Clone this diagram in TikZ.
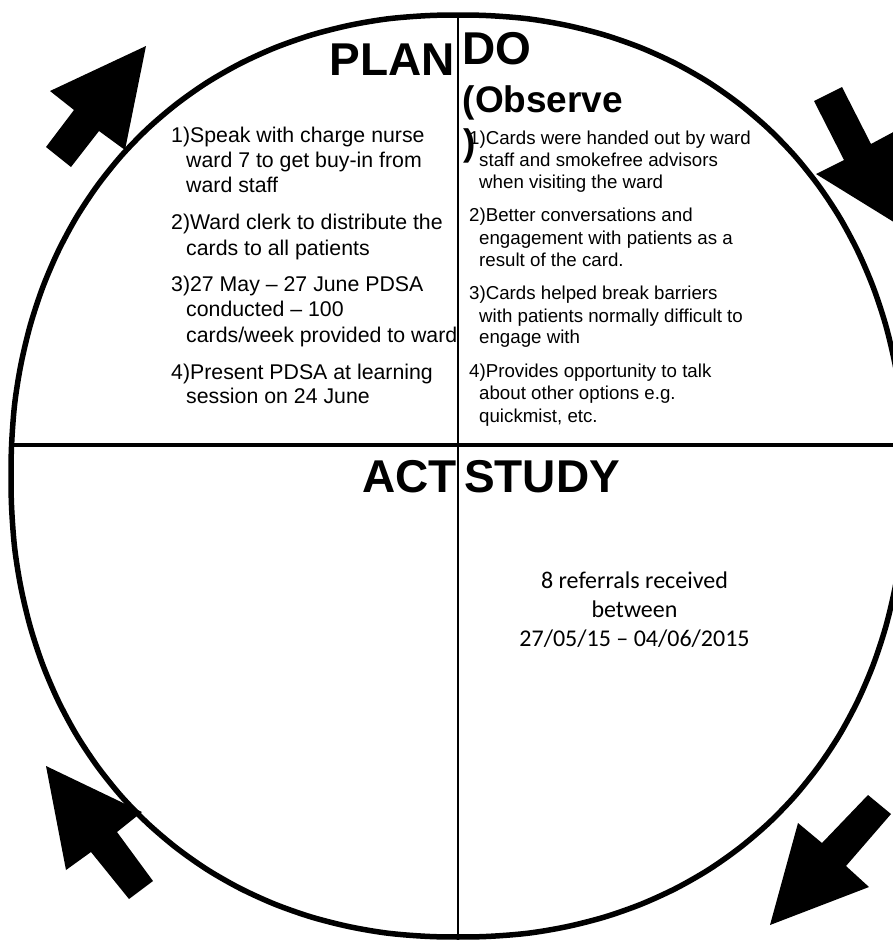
\documentclass[tikz,border=0pt]{standalone}
\usepackage{fontspec}
\setmainfont{Liberation Sans}
\newfontfamily\calibrifont{Carlito}
\begin{document}
\begin{tikzpicture}[x=1pt,y=-1pt,
  ptxt/.style={anchor=base west, inner sep=0pt, font=\fontsize{21.3}{25}\selectfont},
  dtxt/.style={anchor=base west, inner sep=0pt, font=\fontsize{18.7}{22}\selectfont},
  titletxt/.style={anchor=base west, inner sep=0pt, font=\fontsize{46}{50}\selectfont\bfseries},
  subtitletxt/.style={anchor=base west, inner sep=0pt, font=\fontsize{37}{43}\selectfont\bfseries},
  stxt/.style={anchor=base, inner sep=0pt, font=\fontsize{24}{29}\selectfont\calibrifont},
  blockarrow/.style={fill=black, draw=none},
  rim/.style={draw=black, line width=5.5pt},
  hdiv/.style={draw=black, line width=3.4pt},
  vdiv/.style={draw=black, line width=2.5pt}]
\useasboundingbox (0,0) rectangle (893,940);
\fill[white] (0,0) rectangle (893,940);
\clip (0,0) rectangle (893,940);

% outer cycle shape
\draw[rim] plot[domain=2.5:357.5, samples=72, smooth cycle, variable=\t]
  ({458+447*sign(cos(\t))*pow(abs(cos(\t)),0.93)},
   {476+461*sign(sin(\t))*pow(abs(sin(\t)),0.93)});

% dividers
\coordinate (hl) at (14,445);
\coordinate (hr) at (900,445);
\coordinate (vt) at (458,15);
\coordinate (vb) at (458,937);
\draw[hdiv] (hl) -- (hr);
\draw[vdiv] (vt) -- (vb);

% block arrows
\fill[blockarrow] (146,46) -- (50,91) -- (74,110) -- (46,147) -- (71,167) -- (99,131) -- (125,150) -- cycle;
\fill[blockarrow] (897,224) -- (816,174) -- (844,160) -- (814,101) -- (842,87) -- (871,144) -- (899,129) -- cycle;
\fill[blockarrow] (770,925) -- (798,823) -- (822,843) -- (868,795) -- (891,814) -- (846,866) -- (869,887) -- cycle;
\fill[blockarrow] (46,766) -- (142,812) -- (117,832) -- (153,881) -- (129,899) -- (91,852) -- (66,870) -- cycle;

% titles
\node[titletxt] (plan) at (329.5,75) {PLAN};
\node[titletxt] (do) at (462.5,64) {DO};
\node[subtitletxt] (obs) at (462.5,112) {(Observe};
\node[titletxt] (act) at (362,492) {ACT};
\node[titletxt] (study) at (464,492) {STUDY};

% PLAN items
\node[ptxt] (p1a) at (171,142) {1)Speak with charge nurse};
\node[ptxt] (p1b) at (186,167) {ward 7 to get buy-in from};
\node[ptxt] (p1c) at (186,192) {ward staff};
\node[ptxt] (p2a) at (171,229) {2)Ward clerk to distribute the};
\node[ptxt] (p2b) at (186,255) {cards to all patients};
\node[ptxt] (p3a) at (171,291) {3)27 May – 27 June PDSA};
\node[ptxt] (p3b) at (186,316) {conducted – 100};
\node[ptxt] (p3c) at (186,342) {cards/week provided to ward};
\node[ptxt] (p4a) at (171,379) {4)Present PDSA at learning};
\node[ptxt] (p4b) at (186,403) {session on 24 June};

% DO items
\node[dtxt] (d1a) at (469,144) {1)Cards were handed out by ward};
\node[dtxt] (d1b) at (479,166) {staff and smokefree advisors};
\node[dtxt] (d1c) at (479,188) {when visiting the ward};
\node[dtxt] (d2a) at (469,221) {2)Better conversations and};
\node[dtxt] (d2b) at (479,244) {engagement with patients as a};
\node[dtxt] (d2c) at (479,266) {result of the card.};
\node[dtxt] (d3a) at (469,299) {3)Cards helped break barriers};
\node[dtxt] (d3b) at (479,322) {with patients normally difficult to};
\node[dtxt] (d3c) at (479,343) {engage with};
\node[dtxt] (d4a) at (469,377) {4)Provides opportunity to talk};
\node[dtxt] (d4b) at (479,399) {about other options e.g.};
\node[dtxt] (d4c) at (479,422) {quickmist, etc.};

% wrapped closing parenthesis of (Observe)
\node[subtitletxt] (obsclose) at (463,155) {)};

% STUDY text
\node[stxt] (s1) at (634.5,588) {8 referrals received};
\node[stxt] (s2) at (634.5,617) {between};
\node[stxt] (s3) at (634.5,646) {27/05/15 – 04/06/2015};
\end{tikzpicture}
\end{document}
